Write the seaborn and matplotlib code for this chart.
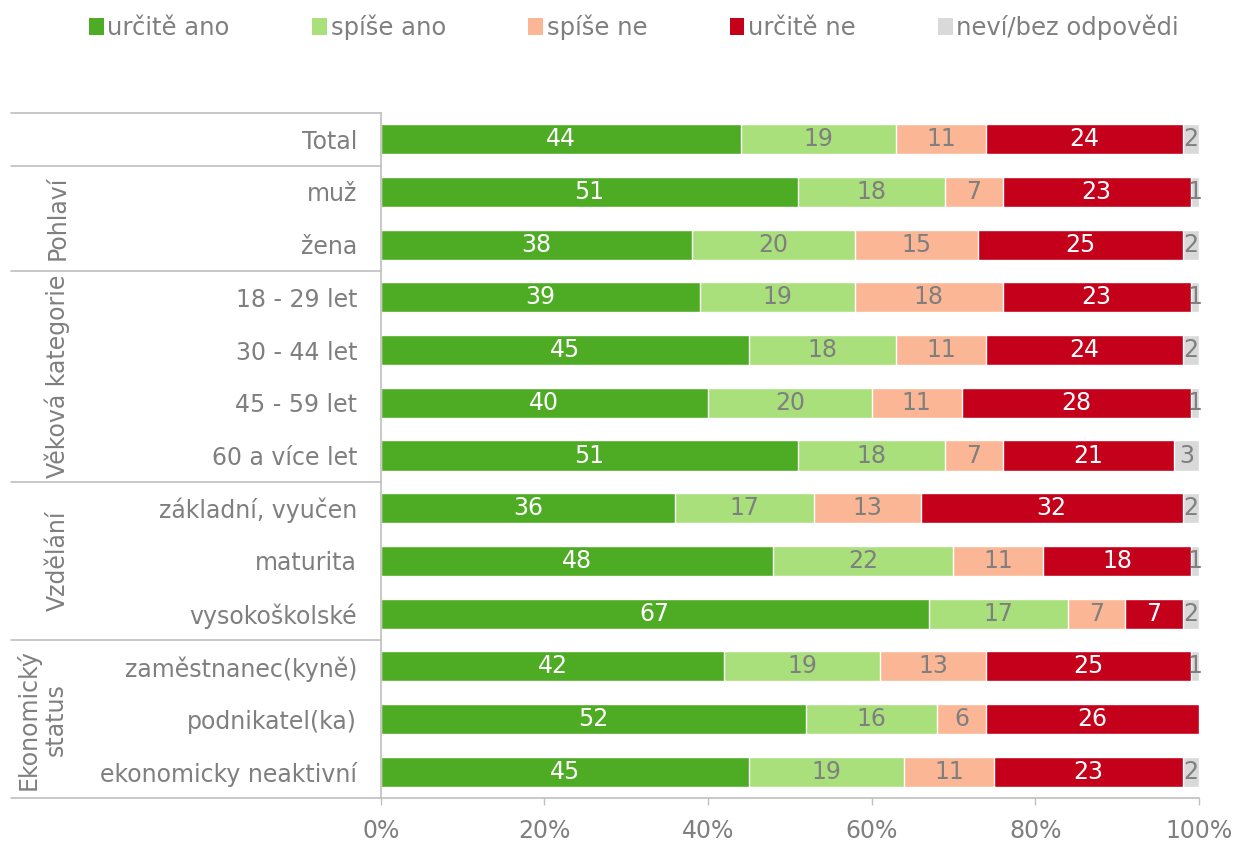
import numpy as np
import pandas as pd
import matplotlib
matplotlib.use("Agg")
import matplotlib.pyplot as plt
import matplotlib.transforms as mtransforms
from matplotlib.patches import Patch
import seaborn as sns

categories = ["Total", "muž", "žena", "18 - 29 let", "30 - 44 let", "45 - 59 let",
              "60 a více let", "základní, vyučen", "maturita", "vysokoškolské",
              "zaměstnanec(kyně)", "podnikatel(ka)", "ekonomicky neaktivní"]
series = ["určitě ano", "spíše ano", "spíše ne", "určitě ne", "neví/bez odpovědi"]
urcite_ano = [44, 51, 38, 39, 45, 40, 51, 36, 48, 67, 42, 52, 45]
spise_ano = [19, 18, 20, 19, 18, 20, 18, 17, 22, 17, 19, 16, 19]
spise_ne = [11, 7, 15, 18, 11, 11, 7, 13, 11, 7, 13, 6, 11]
urcite_ne = [24, 23, 25, 23, 24, 28, 21, 32, 18, 7, 25, 26, 23]
nevi = [2, 1, 2, 1, 2, 1, 3, 2, 1, 2, 1, 0, 2]

groups = ["Pohlaví", "Věková kategorie", "Vzdělání", "Ekonomický\nstatus"]
group_rows = [(1, 2), (3, 6), (7, 9), (10, 12)]

colors = ["#4EAC24", "#A9E07C", "#FBB795", "#C5001A", "#D9D9D9"]
label_colors = ["white", "#7F7F7F", "#7F7F7F", "white", "#7F7F7F"]
grey = "#7F7F7F"
line_grey = "#BFBFBF"

sns.set_style("white")
plt.rcParams["font.family"] = ["DejaVu Sans"]
fs = 17

values = np.array([urcite_ano, spise_ano, spise_ne, urcite_ne, nevi], dtype=float)
cum = np.cumsum(values, axis=0)

fig = plt.figure(figsize=(12.36, 8.42), dpi=100)
ax = fig.add_axes([0.308, 0.052, 0.662, 0.814])

# stacked bars: draw cumulative totals from the widest down
for k in range(len(series) - 1, -1, -1):
    df = pd.DataFrame({"cat": categories, "val": cum[k]})
    sns.barplot(data=df, x="val", y="cat", orient="h", color=colors[k],
                width=0.57, saturation=1, ax=ax)

# segment labels
for k in range(len(series)):
    left = cum[k] - values[k]
    for i, v in enumerate(values[k]):
        if v <= 0:
            continue
        ax.text(left[i] + v / 2, i, f"{int(v)}", ha="center", va="center",
                color=label_colors[k], fontsize=fs)

ax.set_xlim(0, 100)
ax.set_ylim(12.5, -0.5)
ax.set_xticks(np.arange(0, 101, 20))
ax.set_xticklabels([f"{t}%" for t in range(0, 101, 20)])
ax.set_xlabel("")
ax.set_ylabel("")
ax.tick_params(axis="x", colors=line_grey, labelcolor=grey, labelsize=fs,
               length=5, width=1, direction="out", bottom=True, pad=10)
ax.tick_params(axis="y", colors=grey, labelsize=fs, length=0, pad=17)
for s in ["top", "right"]:
    ax.spines[s].set_visible(False)
for s in ["left", "bottom"]:
    ax.spines[s].set_color(line_grey)
    ax.spines[s].set_linewidth(1.2)

# table lines on the left
trans = mtransforms.blended_transform_factory(ax.transAxes, ax.transData)
for yb in [-0.5, 0.5, 2.5, 6.5, 9.5, 12.5]:
    ax.plot([-0.452, 0], [yb, yb], transform=trans, color=line_grey,
            lw=1.2, clip_on=False)

for g, (a, b) in zip(groups, group_rows):
    xg = -0.414 if "\n" in g else -0.395
    ax.text(xg, (a + b) / 2, g, transform=trans, rotation=90, ha="center",
            va="center", color=grey, fontsize=fs, multialignment="center",
            linespacing=1.15)

handles = [Patch(facecolor=c, edgecolor="none") for c in colors]
fig.legend(handles, series, loc="center", bbox_to_anchor=(0.513, 0.968),
           ncol=5, frameon=False, fontsize=17.5, labelcolor=grey,
           handlelength=0.6, handleheight=0.7, handletextpad=0.15,
           columnspacing=3.4)

fig.savefig("out.png", dpi=100)
